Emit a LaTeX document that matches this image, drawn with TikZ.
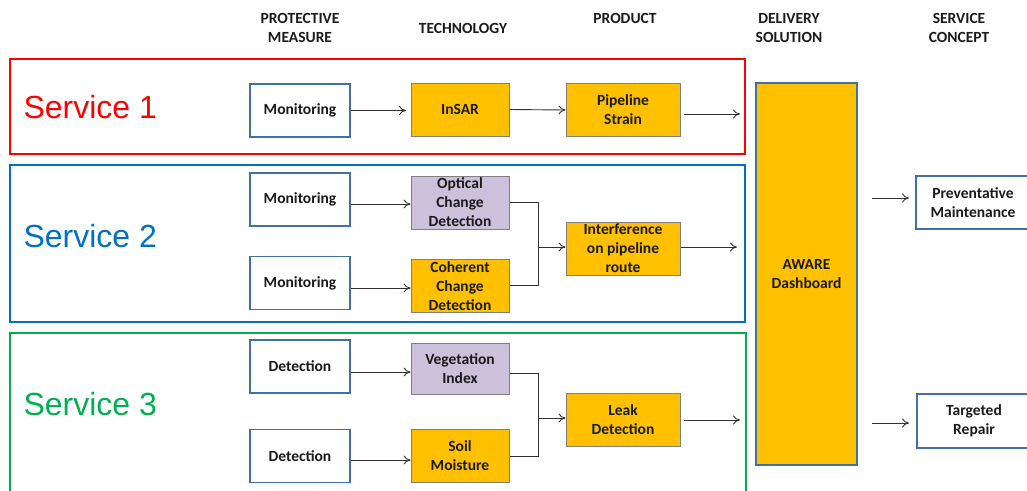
\documentclass[tikz,border=0pt]{standalone}
\usepackage{fontspec}
\setmainfont{Carlito}
\newfontfamily\arialfont{Liberation Sans}
\usetikzlibrary{arrows.meta}
\definecolor{sred}{HTML}{FF0000}
\definecolor{sblue}{HTML}{0070C0}
\definecolor{sgreen}{HTML}{00B050}
\definecolor{pmblue}{HTML}{41719C}
\definecolor{orangef}{HTML}{FFC000}
\definecolor{lavf}{HTML}{CCC1DA}
\definecolor{tgray}{HTML}{7F7F7F}
\definecolor{txt}{HTML}{1A1A1A}
\tikzset{
  pmbox/.style={draw=pmblue, line width=1.6pt, fill=white, minimum width=100pt, minimum height=53pt, inner sep=0pt, align=center, font=\fontsize{15.5}{19}\selectfont\bfseries, text=txt},
  techbox/.style={draw=tgray, line width=1pt, fill=orangef, minimum width=98pt, minimum height=53pt, inner sep=0pt, align=center, font=\fontsize{15.5}{19}\selectfont\bfseries, text=txt},
  lavbox/.style={techbox, fill=lavf},
  prodbox/.style={techbox, minimum width=114pt},
  hdr/.style={align=center, font=\fontsize{15.5}{19}\selectfont\bfseries, text=txt},
  conn/.style={draw=txt!90, line width=0.9pt, -{To[length=7pt,width=9pt]}},
  line/.style={draw=txt!90, line width=0.9pt},
  svc/.style={line width=1.6pt},
  svclbl/.style={anchor=west, font=\arialfont\fontsize{32}{36}\selectfont}
}
\begin{document}
\begin{tikzpicture}[x=1pt,y=-1pt]
\useasboundingbox (0,0) rectangle (1027,490);
% service frames
\draw[svc, draw=sred] (10,59) rectangle (745,154);
\draw[svc, draw=sblue] (10,165) rectangle (745,322);
\draw[svc, draw=sgreen] (10,495) -- (10,333) -- (746,333) -- (746,495);
\node[svclbl, text=sred] (s1) at (20,107) {Service 1};
\node[svclbl, text=sblue] (s2) at (20,236) {Service 2};
\node[svclbl, text=sgreen] (s3) at (20,404) {Service 3};
% headers
\node[hdr] (h1) at (300,28) {PROTECTIVE\\MEASURE};
\node[hdr] (h2) at (463,28) {TECHNOLOGY};
\node[hdr] (h3) at (625,18) {PRODUCT};
\node[hdr] (h4) at (789,28) {DELIVERY\\SOLUTION};
\node[hdr] (h5) at (959,28) {SERVICE\\CONCEPT};
% protective measure
\node[pmbox] (m1) at (300,110.5) {Monitoring};
\node[pmbox] (m2) at (300,199.5) {Monitoring};
\node[pmbox] (m3) at (300,283) {Monitoring};
\node[pmbox] (d1) at (300,366.5) {Detection};
\node[pmbox] (d2) at (300,456) {Detection};
% technology
\node[techbox] (insar) at (460,109.5) {InSAR};
\node[lavbox] (ocd) at (460,202.5) {Optical\\Change\\Detection};
\node[techbox] (ccd) at (460,286) {Coherent\\Change\\Detection};
\node[lavbox, minimum height=51pt] (veg) at (460,368.5) {Vegetation\\Index};
\node[techbox] (soil) at (460,456) {Soil\\Moisture};
% product
\node[prodbox] (pipe) at (623,110) {Pipeline\\Strain};
\node[prodbox] (intf) at (623,248.5) {Interference\\on pipeline\\route};
\node[prodbox] (leak) at (623,419.5) {Leak\\Detection};
% delivery
\node[techbox, draw=pmblue, line width=1.6pt, minimum width=101pt, minimum height=382pt] (aware) at (806.5,274) {AWARE\\Dashboard};
% service concept
\draw[draw=pmblue, line width=1.6pt, fill=white] (1030,176) -- (916,176) -- (916,229) -- (1030,229);
\node[align=center, font=\fontsize{15.5}{19}\selectfont\bfseries, text=txt] (pm) at (973,202.5) {Preventative\\Maintenance};
\draw[draw=pmblue, line width=1.6pt, fill=white] (1030,394) -- (917,394) -- (917,448) -- (1030,448);
\node[align=center, font=\fontsize{15.5}{19}\selectfont\bfseries, text=txt] (tr) at (974,421) {Targeted\\Repair};
% arrows service 1
\draw[conn] (m1.east) -- (406,110.5);
\draw[conn] (insar.east) -- (pipe.west);
\coordinate (e1) at (740,114);
\draw[conn] (684,114) -- (e1);
% service 2
\draw[conn] (m2.east |- 0,204) -- (ocd.west |- 0,204);
\draw[conn] (m3.east |- 0,288) -- (ccd.west |- 0,288);
\coordinate (j2) at (538,247);
\draw[line] (ocd.east |- 0,202) -- (538,202) -- (538,285) -- (ccd.east |- 0,285);
\draw[conn] (j2) -- (intf.west |- j2);
\coordinate (e2) at (737,247);
\draw[conn] (intf.east |- e2) -- (e2);
% service 3
\draw[conn] (d1.east |- 0,372) -- (veg.west |- 0,372);
\draw[conn] (d2.east |- 0,460) -- (soil.west |- 0,460);
\coordinate (j3) at (538,418);
\draw[line] (veg.east |- 0,373) -- (538,373) -- (538,456) -- (soil.east |- 0,456);
\draw[conn] (j3) -- (leak.west |- j3);
\coordinate (e3) at (740,420);
\draw[conn] (684,420) -- (e3);
% outputs
\coordinate (o1) at (872,198);
\coordinate (o2) at (872,423);
\draw[conn] (o1) -- (909,198);
\draw[conn] (o2) -- (909,423);
\end{tikzpicture}
\end{document}
